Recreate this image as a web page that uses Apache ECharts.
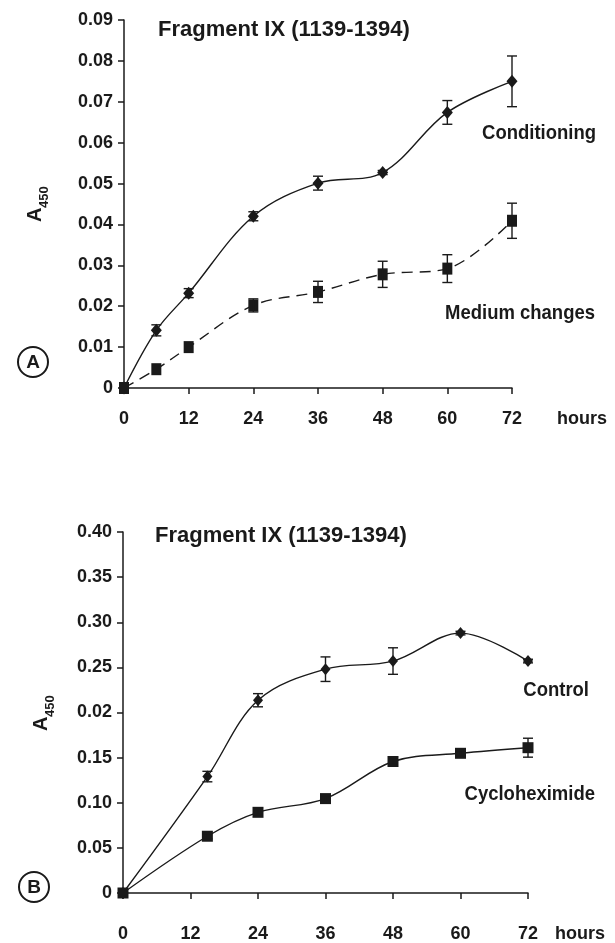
<!DOCTYPE html>
<html>
<head>
<meta charset="utf-8">
<script src="https://cdn.jsdelivr.net/npm/echarts@6/dist/echarts.min.js"></script>
<style>
  html, body { margin: 0; padding: 0; background: #fff; }
  #chart { width: 615px; height: 943px; }
</style>
</head>
<body>
<div id="chart"></div>
<script>
// panel A
const hoursA = [0, 6, 12, 24, 36, 48, 60, 72]
const conditioning = [0, 0.0141, 0.0232, 0.0420, 0.0501, 0.0527, 0.0674, 0.0750]
const conditioningErr = [0, 0.00135, 0.0011, 0.0011, 0.0017, 0.0005, 0.0029, 0.0062]
const mediumChanges = [0, 0.0046, 0.0100, 0.0202, 0.0235, 0.0278, 0.0292, 0.0409]
const mediumChangesErr = [0, 0, 0, 0.0016, 0.0026, 0.0032, 0.0034, 0.0043]
const yTicksA = ['0', '0.01', '0.02', '0.03', '0.04', '0.05', '0.06', '0.07', '0.08', '0.09']

// panel B
const hoursB = [0, 15, 24, 36, 48, 60, 72]
const control = [0, 0.129, 0.2136, 0.248, 0.257, 0.288, 0.257]
const controlErr = [0, 0.0058, 0.0073, 0.0136, 0.0147, 0.002, 0.002]
const cycloheximide = [0, 0.0629, 0.0894, 0.1046, 0.1457, 0.1548, 0.161]
const cycloheximideErr = [0, 0.003, 0.003, 0.003, 0.003, 0.003, 0.0105]
const yTicksB = ['0', '0.05', '0.10', '0.15', '0.02', '0.25', '0.30', '0.35', '0.40']

const xTicks = [0, 12, 24, 36, 48, 60, 72]

const FONT = "'Liberation Sans', Arial, sans-serif"
const INK = '#1a1a1a'

const labelStyle = { color: INK, fontFamily: FONT, fontWeight: 'bold', fontSize: 18 }

const xAxisFor = (gridIndex, margin, nameGap, namePad) => ({
  type: 'value',
  gridIndex,
  min: 0,
  max: 72,
  interval: 12,
  name: 'hours',
  nameLocation: 'end',
  nameGap,
  nameTextStyle: { ...labelStyle, verticalAlign: 'top', align: 'left', padding: [namePad, 0, 0, 0] },
  axisLine: { lineStyle: { color: INK, width: 1.5 } },
  axisTick: { show: true, inside: false, length: 6, lineStyle: { color: INK, width: 1.5 } },
  axisLabel: { ...labelStyle, margin, formatter: v => (xTicks.includes(v) ? String(v) : '') },
  splitLine: { show: false }
})

const yAxisFor = (gridIndex, max, interval, ticks) => ({
  type: 'value',
  gridIndex,
  min: 0,
  max,
  interval,
  axisLine: { show: true, lineStyle: { color: INK, width: 1.5 } },
  axisTick: { show: true, inside: false, length: 6, lineStyle: { color: INK, width: 1.5 } },
  axisLabel: {
    ...labelStyle,
    margin: 11,
    formatter: v => ticks[Math.round(v / interval)] || ''
  },
  splitLine: { show: false }
})

const lineSeries = (xs, ys, axis, symbol, size, dashed) => ({
  type: 'line',
  xAxisIndex: axis,
  yAxisIndex: axis,
  data: xs.map((x, i) => [x, ys[i]]),
  smooth: 0.35,
  symbol,
  symbolSize: size,
  showSymbol: true,
  itemStyle: { color: INK },
  lineStyle: { color: INK, width: 1.4, type: dashed ? [11, 7] : 'solid' },
  z: 3
})

const errorSeries = (xs, ys, errs, axis) => ({
  type: 'custom',
  xAxisIndex: axis,
  yAxisIndex: axis,
  data: xs.map((x, i) => [x, ys[i] - errs[i], ys[i] + errs[i]]).filter((d, i) => errs[i] > 0),
  renderItem: (params, api) => {
    const lo = api.coord([api.value(0), api.value(1)])
    const hi = api.coord([api.value(0), api.value(2)])
    const w = 5
    const style = { stroke: INK, lineWidth: 1.4 }
    return {
      type: 'group',
      children: [
        { type: 'line', shape: { x1: lo[0], y1: lo[1], x2: hi[0], y2: hi[1] }, style },
        { type: 'line', shape: { x1: lo[0] - w, y1: lo[1], x2: lo[0] + w, y2: lo[1] }, style },
        { type: 'line', shape: { x1: hi[0] - w, y1: hi[1], x2: hi[0] + w, y2: hi[1] }, style }
      ]
    }
  },
  z: 4
})

// series names sit right-aligned, in a slightly condensed bold face
const seriesLabel = (text, right, y) => ({
  type: 'text',
  x: right,
  y,
  scaleX: 0.88,
  style: { text, fill: INK, font: `bold 21px ${FONT}`, align: 'right', verticalAlign: 'middle' }
})

const panelMark = (letter, cx, cy) => ({
  type: 'group',
  children: [
    { type: 'circle', shape: { cx, cy, r: 15 }, style: { fill: 'none', stroke: INK, lineWidth: 2 } },
    {
      type: 'text', x: cx, y: cy + 1,
      style: { text: letter, fill: INK, font: `bold 19px ${FONT}`, align: 'center', verticalAlign: 'middle' }
    }
  ]
})

const axisTitle = (x, y) => ({
  type: 'group',
  x, y,
  rotation: Math.PI / 2,
  children: [
    { type: 'text', x: -18, y: -4, style: { text: 'A', fill: INK, font: `bold 20px ${FONT}`, verticalAlign: 'middle' } },
    { type: 'text', x: -4, y: 5, style: { text: '450', fill: INK, font: `bold 13px ${FONT}`, verticalAlign: 'middle' } }
  ]
})

const chart = echarts.init(document.getElementById('chart'), null, { renderer: 'canvas' })

chart.setOption({
  backgroundColor: '#fff',
  animation: false,
  title: [
    { text: 'Fragment IX (1139-1394)', left: 158, top: 19, padding: 0, textStyle: { ...labelStyle, fontSize: 22 } },
    { text: 'Fragment IX (1139-1394)', left: 155, top: 525, padding: 0, textStyle: { ...labelStyle, fontSize: 22 } }
  ],
  grid: [
    { left: 124, top: 20, width: 388, height: 368 },
    { left: 123, top: 532, width: 405, height: 367 }
  ],
  xAxis: [
    xAxisFor(0, 22, 45, 22),
    xAxisFor(1, 32, 27, 32)
  ],
  yAxis: [
    yAxisFor(0, 0.09, 0.01, yTicksA),
    yAxisFor(1, 0.40, 0.05, yTicksB)
  ],
  series: [
    lineSeries(hoursA, conditioning, 0, 'diamond', [11, 13], false),
    errorSeries(hoursA, conditioning, conditioningErr, 0),
    lineSeries(hoursA, mediumChanges, 0, 'rect', [10, 12], true),
    errorSeries(hoursA, mediumChanges, mediumChangesErr, 0),
    lineSeries(hoursB, control, 1, 'diamond', [10, 12], false),
    errorSeries(hoursB, control, controlErr, 1),
    lineSeries(hoursB, cycloheximide, 1, 'rect', [11, 11], false),
    errorSeries(hoursB, cycloheximide, cycloheximideErr, 1)
  ],
  graphic: [
    seriesLabel('Conditioning', 596, 133),
    seriesLabel('Medium changes', 595, 313),
    seriesLabel('Control', 589, 690),
    seriesLabel('Cycloheximide', 595, 794),
    panelMark('A', 33, 362),
    panelMark('B', 34, 887),
    axisTitle(39, 204),
    axisTitle(45, 713)
  ]
})
</script>
</body>
</html>
